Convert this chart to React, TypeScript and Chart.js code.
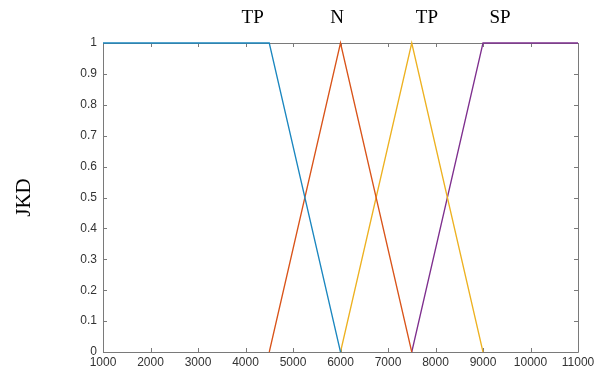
import React, { useEffect, useRef } from "react";
import { Chart, registerables } from "chart.js";

Chart.register(...registerables);

const seriesNames = ["TP1", "N", "TP2", "SP"];
const blueX = [1000, 4500, 6000];
const blueY = [1, 1, 0];
const orangeX = [4500, 6000, 7500];
const orangeY = [0, 1, 0];
const yellowX = [6000, 7500, 9000];
const yellowY = [0, 1, 0];
const purpleX = [7500, 9000, 11000];
const purpleY = [0, 1, 1];
const seriesColors = ["#1a86bf", "#d95319", "#edb120", "#7e2f8e"];

const topLabels = ["TP", "N", "TP", "SP"];
const topLabelX = [4150, 5930, 7820, 9360];

const xTicks = [1000, 2000, 3000, 4000, 5000, 6000, 7000, 8000, 9000, 10000, 11000];
const yTicks = [0, 0.1, 0.2, 0.3, 0.4, 0.5, 0.6, 0.7, 0.8, 0.9, 1];

const toPoints = (xs: number[], ys: number[]) => xs.map((x, i) => ({ x, y: ys[i] }));

const boxPlugin = {
  id: "boxTicks",
  beforeDatasetsDraw(chart: any) {
    const ctx = chart.ctx;
    const { left, right, top, bottom } = chart.chartArea;
    const xs = chart.scales.x;
    const ys = chart.scales.y;
    ctx.save();
    ctx.strokeStyle = "#7a7a7a";
    ctx.lineWidth = 1;
    ctx.beginPath();
    ctx.rect(Math.round(left) + 0.5, Math.round(top) + 0.5, Math.round(right - left), Math.round(bottom - top));
    ctx.stroke();
    const tl = 4;
    ctx.beginPath();
    xTicks.forEach((v) => {
      const p = Math.round(xs.getPixelForValue(v)) + 0.5;
      ctx.moveTo(p, bottom);
      ctx.lineTo(p, bottom - tl);
      ctx.moveTo(p, top);
      ctx.lineTo(p, top + tl);
    });
    yTicks.forEach((v) => {
      const p = Math.round(ys.getPixelForValue(v)) + 0.5;
      ctx.moveTo(left, p);
      ctx.lineTo(left + tl, p);
      ctx.moveTo(right, p);
      ctx.lineTo(right - tl, p);
    });
    ctx.stroke();
    ctx.restore();
  },
  afterDraw(chart: any) {
    const ctx = chart.ctx;
    const { top } = chart.chartArea;
    const xs = chart.scales.x;
    ctx.save();
    ctx.fillStyle = "#000";
    ctx.font = '19px "Liberation Serif", "Times New Roman", serif';
    ctx.textAlign = "center";
    ctx.textBaseline = "middle";
    topLabels.forEach((t, i) => {
      ctx.fillText(t, xs.getPixelForValue(topLabelX[i]), top - 25);
    });
    ctx.restore();
  },
};

export default function App() {
  const ref = useRef<HTMLCanvasElement | null>(null);
  useEffect(() => {
    if (!ref.current) return;
    const datasets = [
      toPoints(blueX, blueY),
      toPoints(orangeX, orangeY),
      toPoints(yellowX, yellowY),
      toPoints(purpleX, purpleY),
    ].map((data, i) => ({
      label: seriesNames[i],
      data,
      showLine: true,
      borderColor: seriesColors[i],
      backgroundColor: seriesColors[i],
      borderWidth: 1.3,
      pointRadius: 0,
      fill: false,
      tension: 0,
      clip: false as any,
    }));
    const chart = new Chart(ref.current, {
      type: "scatter",
      data: { datasets },
      options: {
        animation: false,
        responsive: false,
        maintainAspectRatio: false,
        layout: { padding: { top: 43, right: 20, left: 0, bottom: 0 } },
        plugins: { legend: { display: false }, tooltip: { enabled: false } },
        scales: {
          x: {
            type: "linear",
            min: 1000,
            max: 11000,
            afterBuildTicks: (s: any) => {
              s.ticks = xTicks.map((v) => ({ value: v }));
            },
            afterFit: (s: any) => {
              s.height = 23;
            },
            grid: { display: false, drawTicks: false },
            border: { display: false },
            ticks: {
              autoSkip: false,
              maxRotation: 0,
              padding: 3,
              color: "#333",
              callback: (v: any) => String(v),
              font: { family: '"Liberation Sans", Arial, sans-serif', size: 12 },
            },
          },
          y: {
            type: "linear",
            min: 0,
            max: 1,
            afterBuildTicks: (s: any) => {
              s.ticks = yTicks.map((v) => ({ value: v }));
            },
            afterFit: (s: any) => {
              s.width = 103;
            },
            grid: { display: false, drawTicks: false },
            border: { display: false },
            title: {
              display: true,
              text: "JKD",
              color: "#000",
              padding: { top: 12, bottom: 0 },
              font: { family: '"Liberation Serif", "Times New Roman", serif', size: 21 },
            },
            ticks: {
              padding: 6,
              color: "#333",
              callback: (v: any) => String(Number(Number(v).toFixed(1))),
              font: { family: '"Liberation Sans", Arial, sans-serif', size: 12 },
            },
          },
        },
      },
      plugins: [boxPlugin],
    });
    return () => chart.destroy();
  }, []);
  return (
    <div style={{ position: "fixed", left: 0, top: 0, width: 598, height: 375, background: "#fff" }}>
      <canvas ref={ref} width={598} height={375} style={{ width: 598, height: 375 }} />
    </div>
  );
}
